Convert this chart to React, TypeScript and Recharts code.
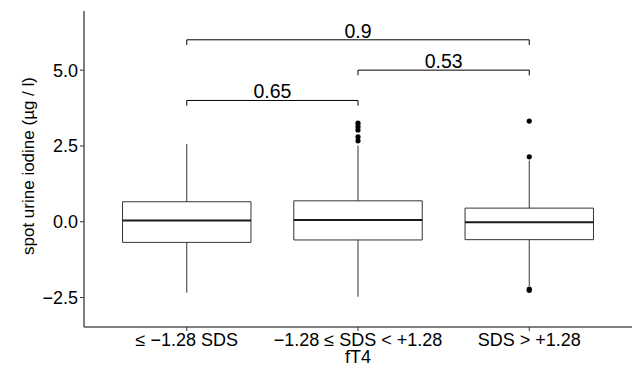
import React from 'react';
import {
  ComposedChart,
  XAxis,
  YAxis,
  Scatter,
  ReferenceArea,
  ReferenceLine,
  ReferenceDot,
} from 'recharts';

const categories = ['≤ −1.28 SDS', '−1.28 ≤ SDS < +1.28', 'SDS > +1.28'];
const whiskerLow = [-2.34, -2.47, -2.12];
const q1 = [-0.68, -0.6, -0.59];
const median = [0.04, 0.06, -0.02];
const q3 = [0.66, 0.69, 0.45];
const whiskerHigh = [2.56, 2.51, 2.02];

const outliers = [
  { x: 2, y: 3.25 },
  { x: 2, y: 3.14 },
  { x: 2, y: 3.03 },
  { x: 2, y: 2.8 },
  { x: 2, y: 2.67 },
  { x: 3, y: 3.32 },
  { x: 3, y: 2.14 },
  { x: 3, y: -2.22 },
  { x: 3, y: -2.26 },
];

const brackets = [
  { from: 1, to: 2, y: 4.0, label: '0.65' },
  { from: 2, to: 3, y: 5.0, label: '0.53' },
  { from: 1, to: 3, y: 6.0, label: '0.9' },
];

const yTicks = [-2.5, 0, 2.5, 5];

const FONT = '"Liberation Sans", Arial, sans-serif';
const HALF = 0.375;
const TIP = 0.17;
const BOX = '#333333';

const fmtY = (v: number) => {
  const s = Math.abs(v).toFixed(1);
  return v < 0 ? '−' + s : s;
};

export default function App() {
  return (
    <div style={{ position: 'absolute', left: 0, top: 0, background: '#fff' }}>
      <ComposedChart
        width={636}
        height={366}
        margin={{ top: 11, right: 4, left: 0, bottom: 0 }}
        style={{ fontFamily: FONT }}
      >
        <XAxis
          type="number"
          dataKey="x"
          domain={[0.4, 3.6]}
          ticks={[1, 2, 3]}
          allowDataOverflow
          tickFormatter={(v: number) => categories[v - 1]}
          height={39}
          tickSize={4}
          tickMargin={2}
          stroke="#000"
          tick={{ fill: '#000', fontSize: 18, fontFamily: FONT }}
          tickLine={{ stroke: '#333' }}
          label={{
            value: 'fT4',
            position: 'insideBottom',
            offset: 3.5,
            style: { fill: '#000', fontSize: 18, fontFamily: FONT },
          }}
        />
        <YAxis
          type="number"
          dataKey="y"
          domain={[-3.47, 6.95]}
          ticks={yTicks}
          allowDataOverflow
          tickFormatter={fmtY}
          width={84}
          tickSize={4}
          tickMargin={2}
          stroke="#000"
          tick={{ fill: '#000', fontSize: 18, fontFamily: FONT }}
          tickLine={{ stroke: '#333' }}
          label={{
            value: 'spot urine iodine (µg / l)',
            angle: -90,
            position: 'insideLeft',
            offset: 28,
            dy: -3,
            style: { textAnchor: 'middle', fill: '#000', fontSize: 17, fontFamily: FONT },
          }}
        />
        {categories.map((c, i) => (
          <ReferenceLine
            key={'wl' + i}
            segment={[
              { x: i + 1, y: whiskerLow[i] },
              { x: i + 1, y: q1[i] },
            ]}
            stroke={BOX}
            strokeWidth={1}
          />
        ))}
        {categories.map((c, i) => (
          <ReferenceLine
            key={'wh' + i}
            segment={[
              { x: i + 1, y: q3[i] },
              { x: i + 1, y: whiskerHigh[i] },
            ]}
            stroke={BOX}
            strokeWidth={1}
          />
        ))}
        {categories.map((c, i) => (
          <ReferenceArea
            key={'box' + i}
            x1={i + 1 - HALF}
            x2={i + 1 + HALF}
            y1={q1[i]}
            y2={q3[i]}
            fill="none"
            fillOpacity={0}
            stroke={BOX}
            strokeWidth={1}
          />
        ))}
        {categories.map((c, i) => (
          <ReferenceLine
            key={'med' + i}
            segment={[
              { x: i + 1 - HALF, y: median[i] },
              { x: i + 1 + HALF, y: median[i] },
            ]}
            stroke="#1a1a1a"
            strokeWidth={2}
          />
        ))}
        {brackets.map((b, i) => (
          <ReferenceLine
            key={'br' + i}
            segment={[
              { x: b.from, y: b.y },
              { x: b.to, y: b.y },
            ]}
            stroke="#000"
            strokeWidth={1}
          />
        ))}
        {brackets.map((b, i) => (
          <ReferenceLine
            key={'brl' + i}
            segment={[
              { x: b.from, y: b.y - TIP },
              { x: b.from, y: b.y },
            ]}
            stroke="#000"
            strokeWidth={1}
          />
        ))}
        {brackets.map((b, i) => (
          <ReferenceLine
            key={'brr' + i}
            segment={[
              { x: b.to, y: b.y - TIP },
              { x: b.to, y: b.y },
            ]}
            stroke="#000"
            strokeWidth={1}
          />
        ))}
        {brackets.map((b, i) => (
          <ReferenceDot
            key={'brt' + i}
            x={(b.from + b.to) / 2}
            y={b.y}
            r={0}
            fill="none"
            stroke="none"
            label={{
              value: b.label,
              position: 'top',
              offset: 2,
              style: { fill: '#000', fontSize: 19.5, fontFamily: FONT },
            }}
          />
        ))}
        <Scatter
          data={outliers}
          dataKey="y"
          isAnimationActive={false}
          shape={(p: any) => <circle cx={p.cx} cy={p.cy} r={2.6} fill="#000" />}
        />
      </ComposedChart>
    </div>
  );
}
